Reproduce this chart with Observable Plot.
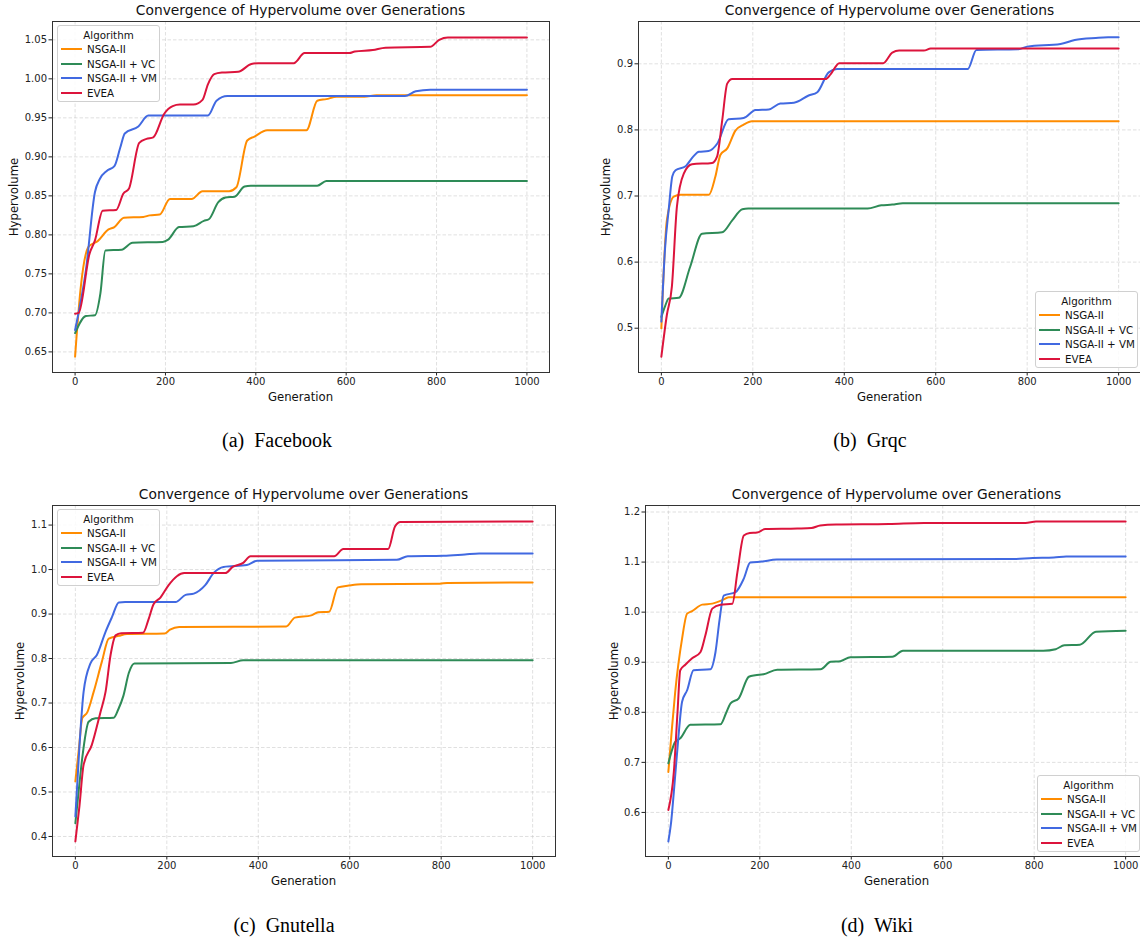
<!DOCTYPE html>
<html><head><meta charset="utf-8">
<script src="https://cdn.jsdelivr.net/npm/d3@7"></script>
<script src="https://cdn.jsdelivr.net/npm/@observablehq/plot@0.6"></script>
<style>
body{margin:0;background:#fff;}
#root{position:relative;width:1140px;height:940px;overflow:hidden;font-family:"DejaVu Sans",sans-serif;color:#111;}
.abs{position:absolute;}
.title{font-size:13.8px;white-space:nowrap;transform:translate(-50%,-50%);}
.ylab{font-size:11.7px;white-space:nowrap;transform:translate(-50%,-50%) rotate(-90deg);}
.xlab{font-size:11.7px;white-space:nowrap;transform:translate(-50%,-50%);}
.cap{font-family:"Liberation Serif",serif;font-size:20px;white-space:pre;transform:translate(-50%,-50%);color:#000;}
.legend{position:absolute;background:rgba(255,255,255,0.85);border:1px solid #d0d0d0;border-radius:3px;box-sizing:border-box;font-size:10.3px;}
.legend .lt{position:absolute;left:0;right:0;text-align:center;transform:translateY(-50%);}
.legend .sw{position:absolute;height:2px;width:21px;transform:translateY(-50%);}
.legend .lb{position:absolute;white-space:nowrap;transform:translateY(-50%);}
</style></head>
<body><div id="root"></div>
<script>
// ---- shared labels ----
const seriesNames = ["NSGA-II", "NSGA-II + VC", "NSGA-II + VM", "EVEA"];
const seriesColors = ["#ff8c00", "#2e8b57", "#4169e1", "#dc143c"];
const xTicks = [0, 200, 400, 600, 800, 1000];
const chartTitle = "Convergence of Hypervolume over Generations";
const xLabel = "Generation";
const yLabel = "Hypervolume";
const legendTitle = "Algorithm";
const captions = ["(a)  Facebook", "(b)  Grqc", "(c)  Gnutella", "(d)  Wiki"];

// ---- (a) Facebook: [generation, hypervolume] ----
const fbNsga = [[0,0.644],[12,0.73],[30,0.785],[50,0.792],[74,0.807],[87,0.810],[108,0.822],[151,0.823],[165,0.825],[187,0.826],[210,0.846],[258,0.846],[282,0.856],[341,0.856],[357,0.861],[381,0.921],[397,0.926],[425,0.934],[512,0.934],[536,0.972],[556,0.974],[579,0.977],[640,0.977],[667,0.979],[1000,0.979]];
const fbVc = [[0,0.674],[24,0.696],[44,0.697],[56,0.725],[67,0.780],[103,0.781],[127,0.790],[194,0.791],[206,0.794],[230,0.810],[262,0.811],[285,0.818],[296,0.820],[317,0.842],[333,0.848],[353,0.849],[375,0.862],[389,0.863],[536,0.863],[556,0.869],[1000,0.869]];
const fbVm = [[0,0.678],[24,0.755],[44,0.855],[55,0.872],[70,0.882],[87,0.888],[100,0.912],[110,0.930],[140,0.939],[162,0.953],[294,0.953],[313,0.972],[337,0.978],[730,0.978],[754,0.984],[786,0.986],[1000,0.986]];
const fbEvea = [[0,0.699],[8,0.700],[32,0.776],[44,0.793],[61,0.831],[91,0.832],[107,0.853],[119,0.859],[142,0.918],[158,0.923],[173,0.925],[197,0.955],[216,0.965],[232,0.967],[262,0.967],[282,0.973],[294,0.993],[308,1.006],[325,1.008],[361,1.009],[390,1.019],[405,1.020],[484,1.020],[508,1.033],[607,1.033],[619,1.035],[659,1.037],[687,1.040],[786,1.041],[806,1.050],[825,1.053],[1000,1.053]];

// ---- (b) Grqc ----
const grNsga = [[0,0.500],[12,0.663],[27,0.699],[42,0.702],[104,0.702],[118,0.729],[129,0.762],[144,0.772],[162,0.799],[180,0.808],[198,0.813],[1000,0.813]];
const grVc = [[0,0.517],[8,0.533],[16,0.545],[38,0.546],[63,0.593],[89,0.643],[133,0.645],[155,0.663],[177,0.680],[190,0.681],[451,0.681],[481,0.686],[505,0.687],[528,0.689],[1000,0.689]];
const grVm = [[0,0.510],[8,0.62],[16,0.679],[24,0.730],[31,0.739],[53,0.745],[70,0.760],[82,0.767],[103,0.768],[122,0.779],[147,0.816],[180,0.818],[206,0.830],[235,0.831],[260,0.840],[290,0.841],[322,0.852],[341,0.857],[366,0.887],[384,0.892],[670,0.892],[689,0.921],[781,0.922],[800,0.926],[873,0.930],[904,0.936],[950,0.939],[977,0.940],[1000,0.940]];
const grEvea = [[0,0.457],[12,0.520],[23,0.563],[34,0.684],[49,0.734],[67,0.748],[111,0.750],[122,0.760],[133,0.814],[144,0.870],[155,0.877],[359,0.877],[370,0.884],[389,0.901],[485,0.901],[505,0.917],[520,0.920],[574,0.920],[589,0.923],[1000,0.923]];

// ---- (c) Gnutella ----
const gnNsga = [[0,0.524],[8,0.600],[15,0.666],[26,0.679],[40,0.725],[58,0.793],[73,0.845],[95,0.851],[113,0.855],[195,0.856],[207,0.865],[227,0.871],[461,0.872],[480,0.892],[516,0.897],[531,0.904],[555,0.905],[574,0.960],[598,0.964],[625,0.967],[797,0.968],[813,0.970],[1000,0.971]];
const gnVc = [[0,0.430],[8,0.510],[15,0.576],[29,0.658],[44,0.666],[84,0.667],[94,0.686],[105,0.716],[117,0.768],[129,0.789],[340,0.790],[367,0.796],[1000,0.796]];
const gnVm = [[0,0.445],[9,0.604],[18,0.725],[33,0.789],[47,0.808],[66,0.860],[80,0.893],[95,0.926],[109,0.927],[219,0.927],[241,0.943],[259,0.946],[284,0.965],[303,0.993],[324,1.006],[375,1.010],[398,1.020],[703,1.022],[727,1.030],[805,1.031],[852,1.034],[883,1.036],[1000,1.036]];
const gnEvea = [[0,0.389],[9,0.469],[18,0.561],[36,0.606],[55,0.680],[66,0.725],[77,0.808],[88,0.852],[100,0.857],[148,0.858],[160,0.888],[171,0.922],[186,0.937],[204,0.965],[222,0.985],[238,0.992],[328,0.992],[344,1.006],[367,1.015],[383,1.030],[566,1.030],[586,1.046],[684,1.046],[699,1.097],[711,1.107],[1000,1.108]];

// ---- (d) Wiki ----
const wkNsga = [[0,0.681],[8,0.770],[15,0.841],[30,0.947],[41,0.997],[52,1.002],[74,1.015],[96,1.017],[118,1.024],[132,1.030],[1000,1.030]];
const wkVc = [[0,0.698],[15,0.741],[26,0.748],[48,0.775],[114,0.776],[126,0.798],[136,0.818],[154,0.828],[176,0.871],[190,0.874],[208,0.876],[238,0.885],[333,0.886],[355,0.901],[376,0.902],[398,0.910],[490,0.911],[513,0.923],[820,0.923],[847,0.926],[866,0.934],[900,0.935],[935,0.961],[1000,0.963]];
const wkVm = [[0,0.542],[6,0.580],[12,0.641],[21,0.740],[30,0.821],[41,0.844],[55,0.884],[92,0.886],[103,0.920],[112,0.985],[121,1.033],[147,1.040],[165,1.067],[179,1.099],[204,1.101],[237,1.105],[751,1.106],[797,1.108],[843,1.109],[870,1.111],[1000,1.111]];
const wkEvea = [[0,0.605],[12,0.681],[20,0.800],[26,0.884],[37,0.895],[52,0.908],[70,0.920],[81,0.954],[96,1.007],[114,1.015],[140,1.017],[151,1.080],[165,1.153],[178,1.158],[194,1.159],[212,1.166],[282,1.167],[313,1.168],[332,1.173],[367,1.175],[482,1.176],[559,1.178],[781,1.178],[804,1.181],[1000,1.181]];

// ---- y ticks ----
const fbYTicks = [0.65,0.70,0.75,0.80,0.85,0.90,0.95,1.00,1.05];
const grYTicks = [0.5,0.6,0.7,0.8,0.9];
const gnYTicks = [0.4,0.5,0.6,0.7,0.8,0.9,1.0,1.1];
const wkYTicks = [0.6,0.7,0.8,0.9,1.0,1.1,1.2];

// ---- layout ----
const panels = [
  {series:[fbNsga,fbVc,fbVm,fbEvea], yTicks:fbYTicks, fmt:".2f", yDomain:[0.6236,1.0735],
   left:0, top:0, width:570, ml:52, mr:21, caption:captions[0], capX:277, capY:440, ylabX:14,
   legend:{x:57, y:25, w:103, h:77}},
  {series:[grNsga,grVc,grVm,grEvea], yTicks:grYTicks, fmt:".1f", yDomain:[0.433,0.964],
   left:580, top:0, width:580, ml:58, mr:19, caption:captions[1], capX:870, capY:440, ylabX:606,
   legend:{x:1035, y:291, w:103, h:77}},
  {series:[gnNsga,gnVc,gnVm,gnEvea], yTicks:gnYTicks, fmt:".1f", yDomain:[0.355,1.144],
   left:0, top:484, width:570, ml:52, mr:15, caption:captions[2], capX:284, capY:925, ylabX:20,
   legend:{x:57, y:509, w:103, h:77}},
  {series:[wkNsga,wkVc,wkVm,wkEvea], yTicks:wkYTicks, fmt:".1f", yDomain:[0.512,1.213],
   left:580, top:484, width:590, ml:65, mr:22, caption:captions[3], capX:877, capY:925, ylabX:614,
   legend:{x:1037, y:775, w:103, h:77}}
];

const root = document.getElementById("root");
const H = 410, MT = 21, MB = 38;

function addDiv(cls, text, x, y) {
  const d = document.createElement("div");
  d.className = "abs " + cls;
  d.textContent = text;
  d.style.left = x + "px";
  d.style.top = y + "px";
  root.appendChild(d);
  return d;
}

for (const p of panels) {
  const marks = [
    Plot.gridX(xTicks, {stroke:"#c8c8c8", strokeOpacity:0.7, strokeWidth:0.8, strokeDasharray:"3.5,2"}),
    Plot.gridY(p.yTicks, {stroke:"#c8c8c8", strokeOpacity:0.7, strokeWidth:0.8, strokeDasharray:"3.5,2"})
  ];
  p.series.forEach((s, i) => {
    marks.push(Plot.line(s, {x: d => d[0], y: d => d[1], stroke: seriesColors[i], strokeWidth: 2, curve: "monotone-x"}));
  });
  marks.push(Plot.frame({stroke:"#333", strokeWidth:1}));
  const svg = Plot.plot({
    width: p.width, height: H,
    marginLeft: p.ml, marginRight: p.mr, marginTop: MT, marginBottom: MB,
    x: {domain:[-50,1050], ticks:xTicks, tickSize:3.5, tickPadding:2, tickFormat:d3.format("d"), label:null},
    y: {domain:p.yDomain, ticks:p.yTicks, tickSize:3.5, tickPadding:2, tickFormat:d3.format(p.fmt), label:null},
    style: {fontFamily:"DejaVu Sans", fontSize:"10px", color:"#222", background:"transparent", overflow:"visible"},
    marks
  });
  svg.style.position = "absolute";
  svg.style.left = p.left + "px";
  svg.style.top = p.top + "px";
  root.appendChild(svg);

  const fl = p.left + p.ml, fr = p.left + p.width - p.mr;
  const ft = p.top + MT, fb = p.top + H - MB;
  const cx = (fl + fr) / 2;
  addDiv("title", chartTitle, cx, p.top + 10);
  addDiv("xlab", xLabel, cx, fb + 25);
  addDiv("ylab", yLabel, p.ylabX, (ft + fb) / 2);
  addDiv("cap", p.caption, p.capX, p.capY);

  // legend
  const L = p.legend;
  const box = document.createElement("div");
  box.className = "legend";
  box.style.left = L.x + "px"; box.style.top = L.y + "px";
  box.style.width = L.w + "px"; box.style.height = L.h + "px";
  const t = document.createElement("div");
  t.className = "lt"; t.textContent = legendTitle; t.style.top = "9px";
  box.appendChild(t);
  seriesNames.forEach((n, i) => {
    const yy = 23 + i * 14.7;
    const sw = document.createElement("div");
    sw.className = "sw"; sw.style.left = "3px"; sw.style.top = yy + "px"; sw.style.background = seriesColors[i];
    box.appendChild(sw);
    const lb = document.createElement("div");
    lb.className = "lb"; lb.style.left = "29px"; lb.style.top = yy + "px"; lb.textContent = n;
    box.appendChild(lb);
  });
  root.appendChild(box);
}
</script>
</body></html>
